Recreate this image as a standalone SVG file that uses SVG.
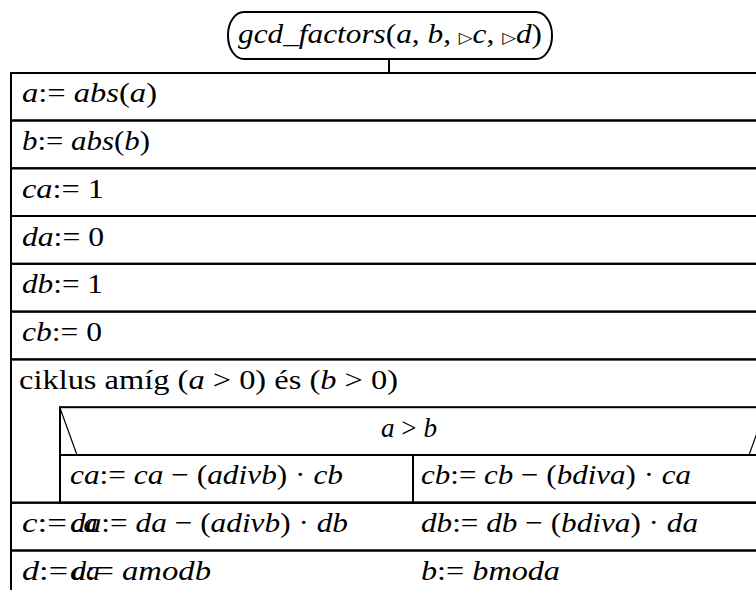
<svg xmlns="http://www.w3.org/2000/svg" width="756" height="590" viewBox="0 0 756 590">
<style>
.r{stroke:#000;stroke-width:2;fill:none}
.d{stroke:#000;stroke-width:1.2;fill:none}
text{font-family:"Liberation Serif","Times New Roman",serif;font-size:28px;fill:#000;font-style:italic}
.u{font-style:normal}
.tri{font-family:"DejaVu Sans",sans-serif;font-style:normal;font-size:16px}
</style>
<rect width="756" height="590" fill="#fff"/>
<g id="connectors">
<line x1="389" y1="59" x2="389" y2="73" class="r"/>
</g>
<g id="start">
<rect x="228" y="12" width="324" height="47" rx="16" ry="23" class="r"/>
<text x="238" y="43" textLength="304" lengthAdjust="spacingAndGlyphs">gcd_factors<tspan class="u">(</tspan>a<tspan class="u">, </tspan>b<tspan class="u">, </tspan><tspan class="tri">▷</tspan>c<tspan class="u">, </tspan><tspan class="tri">▷</tspan>d<tspan class="u">)</tspan></text>
</g>
<g id="s1">
<rect x="11" y="73" width="770" height="47.5" class="r"/>
<text x="22" y="102" textLength="135" lengthAdjust="spacingAndGlyphs">a<tspan class="u">:= </tspan>abs<tspan class="u">(</tspan>a<tspan class="u">)</tspan></text>
</g>
<g id="s2">
<rect x="11" y="120.5" width="770" height="47.8" class="r"/>
<text x="22" y="150" textLength="128" lengthAdjust="spacingAndGlyphs">b<tspan class="u">:= </tspan>abs<tspan class="u">(</tspan>b<tspan class="u">)</tspan></text>
</g>
<g id="s3">
<rect x="11" y="168.3" width="770" height="47.7" class="r"/>
<text x="22" y="198" textLength="82" lengthAdjust="spacingAndGlyphs">ca<tspan class="u">:= 1</tspan></text>
</g>
<g id="s4">
<rect x="11" y="216" width="770" height="47.8" class="r"/>
<text x="22" y="245.5" textLength="82" lengthAdjust="spacingAndGlyphs">da<tspan class="u">:= 0</tspan></text>
</g>
<g id="s5">
<rect x="11" y="263.8" width="770" height="47.8" class="r"/>
<text x="22" y="293" textLength="81" lengthAdjust="spacingAndGlyphs">db<tspan class="u">:= 1</tspan></text>
</g>
<g id="s6">
<rect x="11" y="311.6" width="770" height="47.8" class="r"/>
<text x="22" y="341" textLength="80" lengthAdjust="spacingAndGlyphs">cb<tspan class="u">:= 0</tspan></text>
</g>
<g id="loop">
<rect x="11" y="359.4" width="770" height="143.3" class="r"/>
<text x="19" y="389" textLength="379" lengthAdjust="spacingAndGlyphs"><tspan class="u">ciklus amíg (</tspan>a<tspan class="u"> &gt; 0) és (</tspan>b<tspan class="u"> &gt; 0)</tspan></text>
</g>
<g id="cond">
<rect x="60" y="407.2" width="710" height="47.8" class="r"/>
<line x1="60" y1="408" x2="77" y2="455" class="d"/>
<line x1="749" y1="455" x2="766" y2="408" class="d"/>
<text x="381" y="437" textLength="56" lengthAdjust="spacingAndGlyphs">a<tspan class="u"> &gt; </tspan>b</text>
</g>
<g id="branch-yes">
<rect x="60" y="455" width="353" height="47.7" class="r"/>
<text x="70" y="484" textLength="273" lengthAdjust="spacingAndGlyphs">ca<tspan class="u">:= </tspan>ca<tspan class="u"> − (</tspan>adivb<tspan class="u">) · </tspan>cb</text>
</g>
<g id="branch-no">
<rect x="413" y="455" width="357" height="47.7" class="r"/>
<text x="421" y="484" textLength="270" lengthAdjust="spacingAndGlyphs">cb<tspan class="u">:= </tspan>cb<tspan class="u"> − (</tspan>bdiva<tspan class="u">) · </tspan>ca</text>
</g>
<g id="s7">
<rect x="11" y="502.7" width="770" height="47.8" class="r"/>
<text x="22" y="532" textLength="45" lengthAdjust="spacingAndGlyphs">c<tspan class="u">:=</tspan></text>
<text x="71" y="532">ca</text>
<text x="70" y="532" textLength="278" lengthAdjust="spacingAndGlyphs">da<tspan class="u">:= </tspan>da<tspan class="u"> − (</tspan>adivb<tspan class="u">) · </tspan>db</text>
<text x="421" y="532" textLength="277" lengthAdjust="spacingAndGlyphs">db<tspan class="u">:= </tspan>db<tspan class="u"> − (</tspan>bdiva<tspan class="u">) · </tspan>da</text>
</g>
<g id="s8">
<rect x="11" y="550.5" width="770" height="47.8" class="r"/>
<text x="22" y="580" textLength="46" lengthAdjust="spacingAndGlyphs">d<tspan class="u">:=</tspan></text>
<text x="72" y="580">da</text>
<text x="70" y="580" textLength="141" lengthAdjust="spacingAndGlyphs">a<tspan class="u">:= </tspan>amodb</text>
<text x="421" y="580" textLength="139" lengthAdjust="spacingAndGlyphs">b<tspan class="u">:= </tspan>bmoda</text>
</g>
</svg>
